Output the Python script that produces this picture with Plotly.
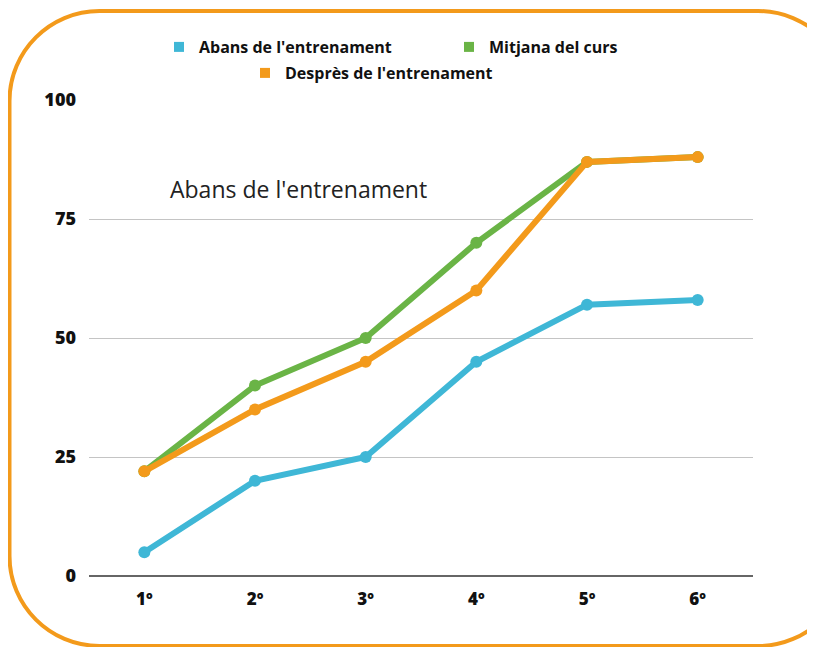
import plotly.graph_objects as go

courses = ["1º", "2º", "3º", "4º", "5º", "6º"]
abans = [5, 20, 25, 45, 57, 58]
mitjana = [22, 40, 50, 70, 87, 88]
despres = [22, 35, 45, 60, 87, 88]
y_ticks = [0, 25, 50, 75, 100]

names = ["Abans de l'entrenament", "Mitjana del curs", "Desprès de l'entrenament"]
colors = ["#3fb7d6", "#6ab446", "#f39a1b"]

# figure pixel geometry (page adds an 8px offset)
W, H = 815, 647
L, R, T, B = 81, 70, 92, 79
pw, ph = W - L - R, H - T - B


def px(x):
    return (x - L) / pw


def py(y):
    return (H - B - y) / ph


def frame_path(x0, y0, x1, y1, r):
    # rounded frame whose right side runs off the picture (open on the right)
    k = 0.5523 * r
    pts = [
        ("M", [(x1, y0 + r)]),
        ("C", [(x1, y0 + r - k), (x1 - r + k, y0), (x1 - r, y0)]),
        ("L", [(x0 + r, y0)]),
        ("C", [(x0 + r - k, y0), (x0, y0 + r - k), (x0, y0 + r)]),
        ("L", [(x0, y1 - r)]),
        ("C", [(x0, y1 - r + k), (x0 + r - k, y1), (x0 + r, y1)]),
        ("L", [(x1 - r, y1)]),
        ("C", [(x1 - r + k, y1), (x1, y1 - r + k), (x1, y1 - r)]),
    ]
    s = ""
    for cmd, coords in pts:
        s += cmd + " " + " ".join(f"{px(a):.5f},{py(b):.5f}" for a, b in coords) + " "
    return s.strip()


fig = go.Figure()
for name, vals, col in zip(names, [abans, mitjana, despres], colors):
    fig.add_trace(go.Scatter(
        x=courses, y=vals, mode="lines+markers", name=name,
        line=dict(color=col, width=6), marker=dict(color=col, size=12),
        showlegend=False,
    ))

# legend-only entries with square symbols, one legend each
legend_ids = ["legend", "legend2", "legend3"]
for name, col, lid in zip(names, colors, legend_ids):
    fig.add_trace(go.Scatter(
        x=[None], y=[None], mode="markers", name=name,
        marker=dict(color=col, symbol="square", size=10),
        legend=lid,
    ))

legend_font = dict(family="Open Sans", size=16, color="#111111", weight="bold")
legend_pos = {"legend": (151, 22), "legend2": (441, 22), "legend3": (237, 48)}
legends = {}
for lid, (lx, ly) in legend_pos.items():
    legends[lid] = dict(
        x=px(lx), y=py(ly), xanchor="left", yanchor="top",
        font=legend_font, bgcolor="rgba(0,0,0,0)",
    )

fig.update_layout(
    width=W, height=H,
    margin=dict(l=L, r=R, t=T, b=B),
    paper_bgcolor="white", plot_bgcolor="white",
    font=dict(family="Open Sans", color="#111111"),
    xaxis=dict(
        type="category", range=[-0.5, 5.5], showgrid=False,
        showline=False, ticks="", zeroline=False, ticklabelstandoff=11,
        tickfont=dict(size=17, weight=800, color="#111111"),
    ),
    yaxis=dict(
        range=[0, 100], tickvals=y_ticks, showgrid=True,
        gridcolor="#c4c4c4", gridwidth=1, zeroline=True,
        zerolinecolor="#666666", zerolinewidth=2, ticks="",
        ticklabelstandoff=12,
        tickfont=dict(size=18, weight=800, color="#111111"),
    ),
    annotations=[dict(
        text="Abans de l'entrenament", xref="paper", yref="paper",
        x=px(160), y=py(181), xanchor="left", yanchor="middle",
        showarrow=False, font=dict(family="Open Sans", size=23, color="#222222"),
    )],
    shapes=[dict(
        type="path", xref="paper", yref="paper",
        path=frame_path(1.5, 3, 840, 638, 90),
        line=dict(color="#f39a1b", width=4), fillcolor="rgba(0,0,0,0)",
        layer="above",
    )],
    **legends,
)

fig.write_html("out.html")
